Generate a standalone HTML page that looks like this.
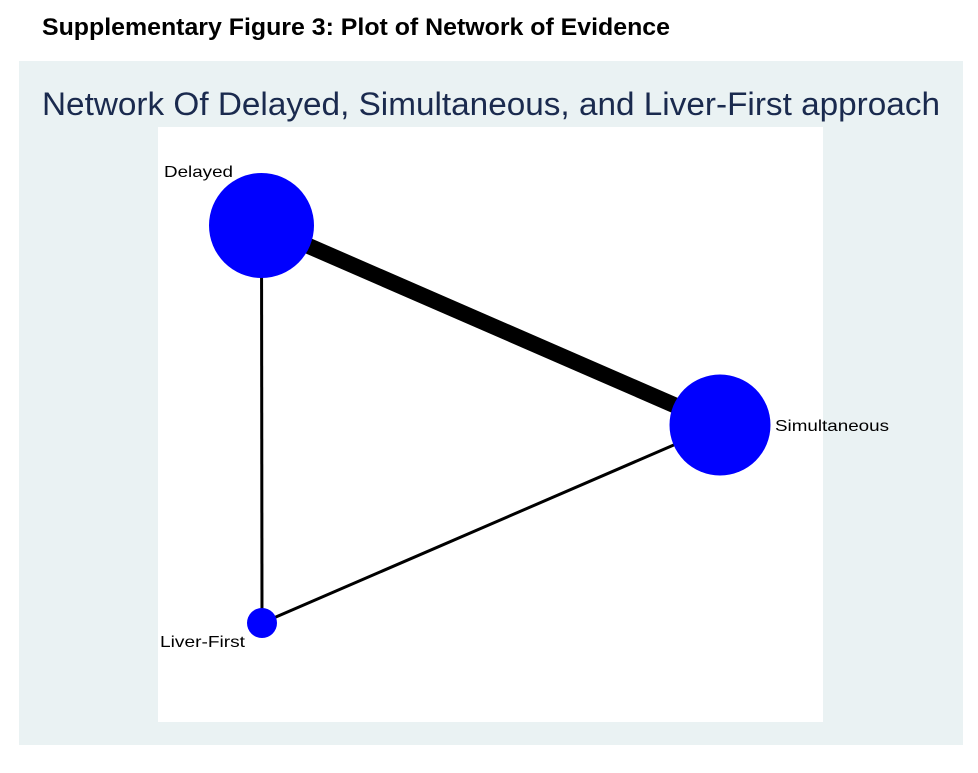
<!DOCTYPE html>
<html><head><meta charset="utf-8"><style>
html,body{margin:0;padding:0;background:#fff;}
svg{display:block;}
</style></head><body>
<svg width="978" height="773" viewBox="0 0 978 773" xmlns="http://www.w3.org/2000/svg">
<rect width="978" height="773" fill="#fff"/>
<text x="42" y="35" font-family="Liberation Sans, sans-serif" font-weight="bold" font-size="24" textLength="628" lengthAdjust="spacingAndGlyphs" fill="#000">Supplementary Figure 3: Plot of Network of Evidence</text>
<rect x="19" y="61" width="944" height="684" fill="#eaf2f3"/>
<text x="42" y="115" font-family="Liberation Sans, sans-serif" font-size="32" textLength="898" lengthAdjust="spacingAndGlyphs" fill="#1a2a4e">Network Of Delayed, Simultaneous, and Liver-First approach</text>
<rect x="158" y="127" width="665" height="595" fill="#fff"/>
<line x1="261.5" y1="225.5" x2="720" y2="425" stroke="#000" stroke-width="16"/>
<line x1="261.5" y1="225.5" x2="262" y2="623" stroke="#000" stroke-width="3"/>
<line x1="262" y1="623" x2="720" y2="425" stroke="#000" stroke-width="3"/>
<circle cx="261.5" cy="225.5" r="52.5" fill="#0000ff"/>
<circle cx="720" cy="425" r="50.5" fill="#0000ff"/>
<circle cx="262" cy="623" r="15" fill="#0000ff"/>
<g font-family="Liberation Sans, sans-serif" font-size="16" fill="#000">
<text x="164" y="177" textLength="69" lengthAdjust="spacingAndGlyphs">Delayed</text>
<text x="775" y="431" textLength="114" lengthAdjust="spacingAndGlyphs">Simultaneous</text>
<text x="160" y="647" textLength="85" lengthAdjust="spacingAndGlyphs">Liver-First</text>
</g>
</svg>
</body></html>
